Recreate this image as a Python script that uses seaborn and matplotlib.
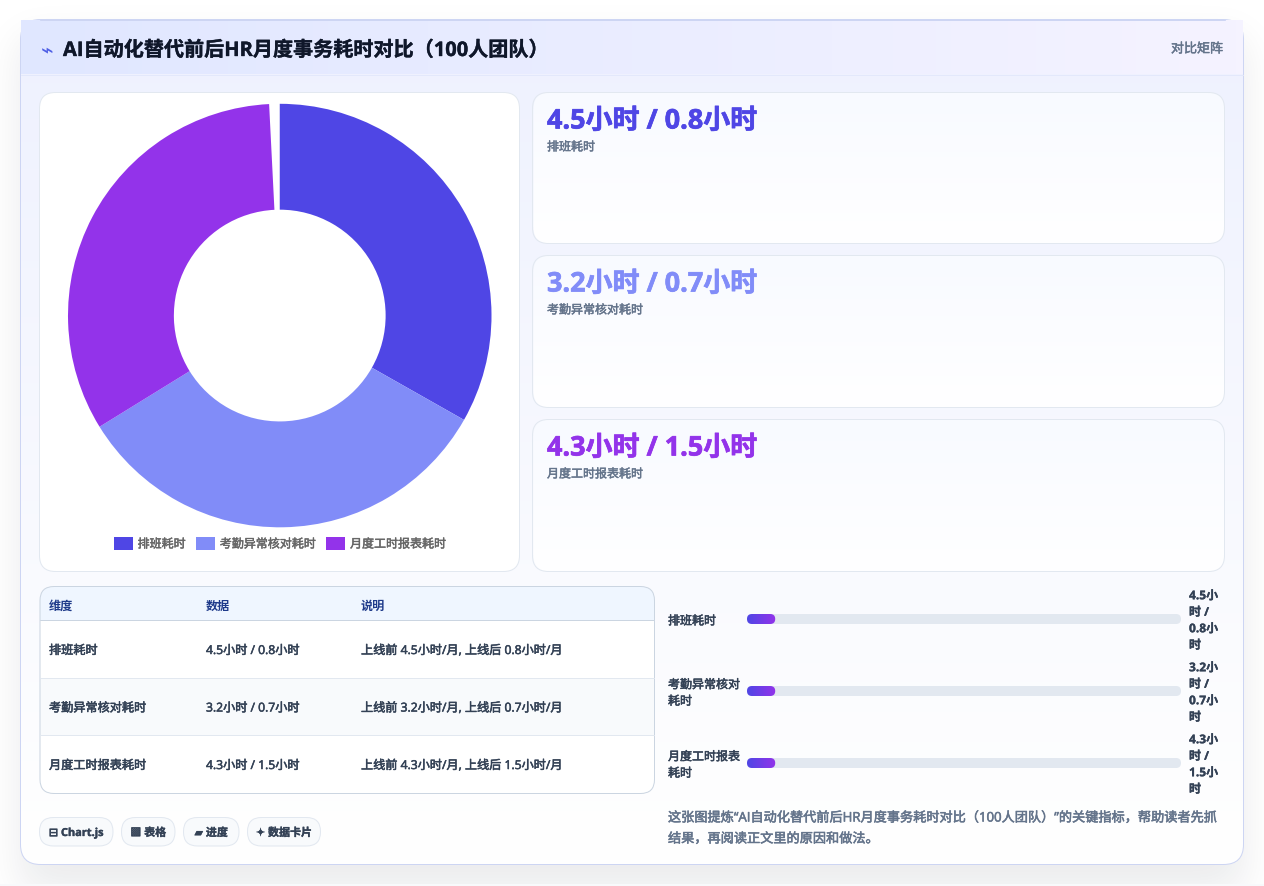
import math
import numpy as np
import pandas as pd
import matplotlib
matplotlib.use("Agg")
import matplotlib.pyplot as plt
import matplotlib.patheffects as pe
from matplotlib.patches import FancyBboxPatch, Rectangle
from matplotlib.colors import LinearSegmentedColormap, to_rgb
import seaborn as sns

W, H = 1264, 887

# Dashboard content
title = "AI自动化替代前后HR月度事务耗时对比（100人团队）"
badge = "对比矩阵"
categories = ["排班耗时", "考勤异常核对耗时", "月度工时报表耗时"]
pie_shares = [33.2, 33.0, 33.0]
pie_total = 100
stat_values = ["4.5小时 / 0.8小时", "3.2小时 / 0.7小时", "4.3小时 / 1.5小时"]
table_header = ["维度", "数据", "说明"]
table_notes = ["上线前 4.5小时/月, 上线后 0.8小时/月",
               "上线前 3.2小时/月, 上线后 0.7小时/月",
               "上线前 4.3小时/月, 上线后 1.5小时/月"]
progress_labels = ["排班耗时", "考勤异常核对\n耗时", "月度工时报表\n耗时"]
progress_side = ["4.5小\n时 /\n0.8小\n时", "3.2小\n时 /\n0.7小\n时", "4.3小\n时 /\n1.5小\n时"]
progress_pct = [6.5, 6.5, 6.5]
chips = ["⊟ Chart.js", "▩ 表格", "▰ 进度", "✦ 数据卡片"]
note_lines = ["这张图提炼“AI自动化替代前后HR月度事务耗时对比（100人团队）”的关键指标，帮助读者先抓",
              "结果，再阅读正文里的原因和做法。"]

# Palette
slice_colors = ["#4f46e5", "#818cf8", "#9333ea"]
ink_dark = "#0f172a"
ink_body = "#334155"
ink_muted = "#64748b"
line_soft = "#e2e8f0"
HAIR = 0.72

sns.set_theme(style="white", rc={"axes.facecolor": "none", "figure.facecolor": "white"})
plt.rcParams["font.family"] = ["Open Sans", "Noto Sans CJK SC", "DejaVu Sans"]


def px(n):
    return n * 72 / 100


def heavier(color, amount=0.35):
    return [pe.Stroke(linewidth=amount, foreground=color), pe.Normal()]


def axes_px(fig, x0, y0, x1, y1, **kw):
    return fig.add_axes([x0 / W, 1 - y1 / H, (x1 - x0) / W, (y1 - y0) / H], **kw)


def rounded(x0, y0, x1, y1, r, **kw):
    return FancyBboxPatch((x0 + r, y0 + r), x1 - x0 - 2 * r, y1 - y0 - 2 * r,
                          boxstyle=f"round,pad={r},rounding_size={r}", **kw)


def gradient(ax, box, c0, c1, clip=None, horizontal=False, zorder=1):
    cmap = LinearSegmentedColormap.from_list("g", [c0, c1])
    ramp = np.linspace(0, 1, 256)
    ramp = ramp[None, :] if horizontal else ramp[:, None]
    x0, y0, x1, y1 = box
    im = ax.imshow(ramp, cmap=cmap, extent=(x0, x1, y1, y0), aspect="auto",
                   origin="upper", zorder=zorder, interpolation="bilinear")
    if clip is not None:
        ax.add_patch(clip)
        clip.set_visible(False)
        im.set_clip_path(clip)
    return im


def soft_edge(coords, start, stop, sigma):
    erf = np.vectorize(math.erf)
    k = sigma * math.sqrt(2)
    return 0.5 * (erf((coords - start) / k) - erf((coords - stop) / k))


fig = plt.figure(figsize=(W / 100, H / 100), dpi=100, facecolor="white")
bg = axes_px(fig, 0, 0, W, H)
bg.set_xlim(0, W)
bg.set_ylim(H, 0)
bg.axis("off")

# Soft drop shadow under the card
fx = soft_edge(np.arange(W) + 0.5, 20, 1244, 20)
fy = soft_edge(np.arange(H) + 0.5, 40, 892, 20)
shadow = np.ones((H, W, 4))
shadow[..., :3] = to_rgb("#0f172a")
shadow[..., 3] = 0.085 * np.outer(fy, fx)
bg.imshow(shadow, extent=(0, W, H, 0), aspect="auto", zorder=0)
bg.add_patch(Rectangle((0, 885.5), W, 1.5, fc="#f8f9fb", ec="none", zorder=0.5))

# Card body with a pale lavender wash fading to white
gradient(bg, (20, 20, 1244, 866), "#eef1fe", "#ffffff",
         clip=rounded(20.5, 20.5, 1243.5, 865.5, 20, transform=bg.transData), zorder=1)
bg.add_patch(rounded(20.5, 20.5, 1243.5, 865.5, 20, fc="none", ec="#cdd5f3", lw=HAIR, zorder=1.2))

# Header band
gradient(bg, (21, 21, 1243, 75), "#e0e7ff", "#f5f3ff", horizontal=True, zorder=1.5)
bg.add_line(plt.Line2D([21, 1243], [75.5, 75.5], color="#e3e8fb", lw=HAIR, zorder=1.6))
bg.add_line(plt.Line2D([40, 1225], [20.5, 20.5], color="#cdd5f3", lw=HAIR, zorder=1.6))
bg.text(40.5, 50.5, "⌁", fontsize=px(21), color="#4f5fe5", ha="left", va="center",
        family="DejaVu Sans", zorder=3)
bg.text(63, 52, title, fontsize=px(20.1), fontweight="bold", color=ink_dark, va="center", zorder=3,
        path_effects=heavier(ink_dark, 0.25))
bg.text(1223, 50, badge, fontsize=px(13), color=ink_muted, ha="right", va="center", zorder=3,
        path_effects=heavier(ink_muted))

# Chart panel
bg.add_patch(rounded(39.5, 93.5, 519.5, 572.5, 16, fc="white", ec=line_soft, lw=HAIR, zorder=2))

# Metric cards
for i, (top, bottom) in enumerate([(93.5, 244.5), (256.5, 408.5), (420.5, 572.5)]):
    gradient(bg, (533, top, 1225, bottom), "#f8faff", "#ffffff",
             clip=rounded(533.5, top, 1224.5, bottom, 16, transform=bg.transData), zorder=2)
    bg.add_patch(rounded(532.5, top, 1224.5, bottom, 16, fc="none", ec=line_soft, lw=HAIR, zorder=2.1))
    bg.text(547, top + 29, stat_values[i], fontsize=px(27), fontweight="bold",
            color=slice_colors[i], va="center", zorder=3, path_effects=heavier(slice_colors[i], 0.5))
    bg.text(547, top + 54.5, categories[i], fontsize=px(12),
            color=ink_muted, va="center", zorder=3, path_effects=heavier(ink_muted))

# Table
tbl = rounded(40, 587.5, 654.5, 794.5, 14, fc="white", ec="none", zorder=2, transform=bg.transData)
bg.add_patch(tbl)
head = Rectangle((40, 588), 615, 32.5, fc="#eff6ff", ec="none", zorder=2.05)
bg.add_patch(head)
head.set_clip_path(tbl)
alt = Rectangle((40, 679), 615, 57, fc="#f8fafc", ec="none", zorder=2.05)
bg.add_patch(alt)
bg.add_patch(rounded(40, 587.5, 654.5, 794.5, 14, fc="none", ec="#cbd5e1", lw=HAIR, zorder=2.2))
bg.add_line(plt.Line2D([40, 654], [620.5, 620.5], color="#cbd5e1", lw=HAIR, zorder=2.2))
for y in (678.5, 735.5):
    bg.add_line(plt.Line2D([40, 654], [y, y], color=line_soft, lw=HAIR, zorder=2.2))
col_x = [49, 206, 361]
for x, label in zip(col_x, table_header):
    bg.text(x, 606, label, fontsize=px(12.1), fontweight="bold", color="#1e3a8a", va="center", zorder=3)
for y, row in zip((651.5, 709, 766.5), zip(categories, stat_values, table_notes)):
    for x, cell in zip(col_x, row):
        bg.text(x, y, cell, fontsize=px(12.15), color=ink_body, va="center", zorder=3,
                path_effects=heavier(ink_body, 0.4))

# Chips
for (x0, x1), label in zip([(39.5, 113), (121.5, 175), (183.5, 239), (247.5, 320.5)], chips):
    bg.add_patch(rounded(x0, 818.5, x1, 847, 14, fc="#f8fafc", ec=line_soft, lw=HAIR, zorder=2))
    bg.text((x0 + x1) / 2, 834.5, label, fontsize=px(11), fontweight="bold", color=ink_body,
            ha="center", va="center", zorder=3, path_effects=heavier(ink_body, 0.25))

# Donut chart, drawn on the same 0-100 scale as its shares
ax_pie = axes_px(fig, 68, 104.8, 491.5, 528.3)
ax_pie.set_facecolor("none")
wedges, _ = ax_pie.pie(np.array(pie_shares) / pie_total, colors=slice_colors, startangle=90,
                       counterclock=False, radius=1, normalize=False,
                       wedgeprops=dict(width=0.5, linewidth=0))
ax_pie.set_xlim(-1, 1)
ax_pie.set_ylim(-1, 1)
ax_pie.set_zorder(4)
legend = fig.legend(wedges, categories, loc="center", bbox_to_anchor=(280 / W, 1 - 545 / H), ncol=3,
                    frameon=False, handlelength=1.55, handleheight=1.2, handletextpad=0.42,
                    columnspacing=0.88, labelcolor="#666666", prop={"size": px(12)})
for text in legend.get_texts():
    text.set_path_effects(heavier("#666666"))

# Progress rows through seaborn bars on a 0-100 axis
progress = pd.DataFrame({"label": categories, "pct": progress_pct, "full": [100, 100, 100]})
ax_bar = axes_px(fig, 747, 583, 1181, 799)
sns.barplot(data=progress, y="label", x="full", color="#e2e8f0", width=10 / 72, ax=ax_bar,
            saturation=1, orient="h")
n_track = len(ax_bar.patches)
sns.barplot(data=progress, y="label", x="pct", color="#4f46e5", width=10 / 72, ax=ax_bar,
            saturation=1, orient="h")
ax_bar.set_xlim(0, 100)
ax_bar.set_ylim(2.5, -0.5)
ax_bar.axis("off")
ax_bar.set_zorder(4)
fig.canvas.draw()
for k, bar in enumerate(list(ax_bar.patches)):
    ext = bar.get_window_extent()
    x0, x1 = ext.x0, ext.x1
    y0, y1 = H - ext.y1 + 1, H - ext.y0 + 1
    bar.set_visible(False)
    shape = dict(transform=bg.transData)
    if k < n_track:
        bg.add_patch(rounded(x0, y0, x1, y1, 5, fc="#e2e8f0", ec="none", zorder=3, **shape))
    else:
        gradient(bg, (x0, y0, x1, y1), "#4f46e5", "#9333ea", horizontal=True, zorder=3.2,
                 clip=rounded(x0, y0, x1, y1, 5, **shape))
bg.set_xlim(0, W)
bg.set_ylim(H, 0)

for y, label, side in zip((621.5, 693.5, 765.5), progress_labels, progress_side):
    bg.text(668, y + 0.5, label, fontsize=px(12), color=ink_body, va="center",
            linespacing=1.35, zorder=3, path_effects=heavier(ink_body, 0.4))
    bg.text(1189, y, side, fontsize=px(12), fontweight="bold", color=ink_body, va="center",
            linespacing=1.35, zorder=3, path_effects=heavier(ink_body, 0.2))

for y, line in zip((819, 840), note_lines):
    bg.text(668, y, line, fontsize=px(13.17), color=ink_muted, va="center", zorder=3,
            path_effects=heavier(ink_muted, 0.4))

fig.savefig("out.png", dpi=100)
